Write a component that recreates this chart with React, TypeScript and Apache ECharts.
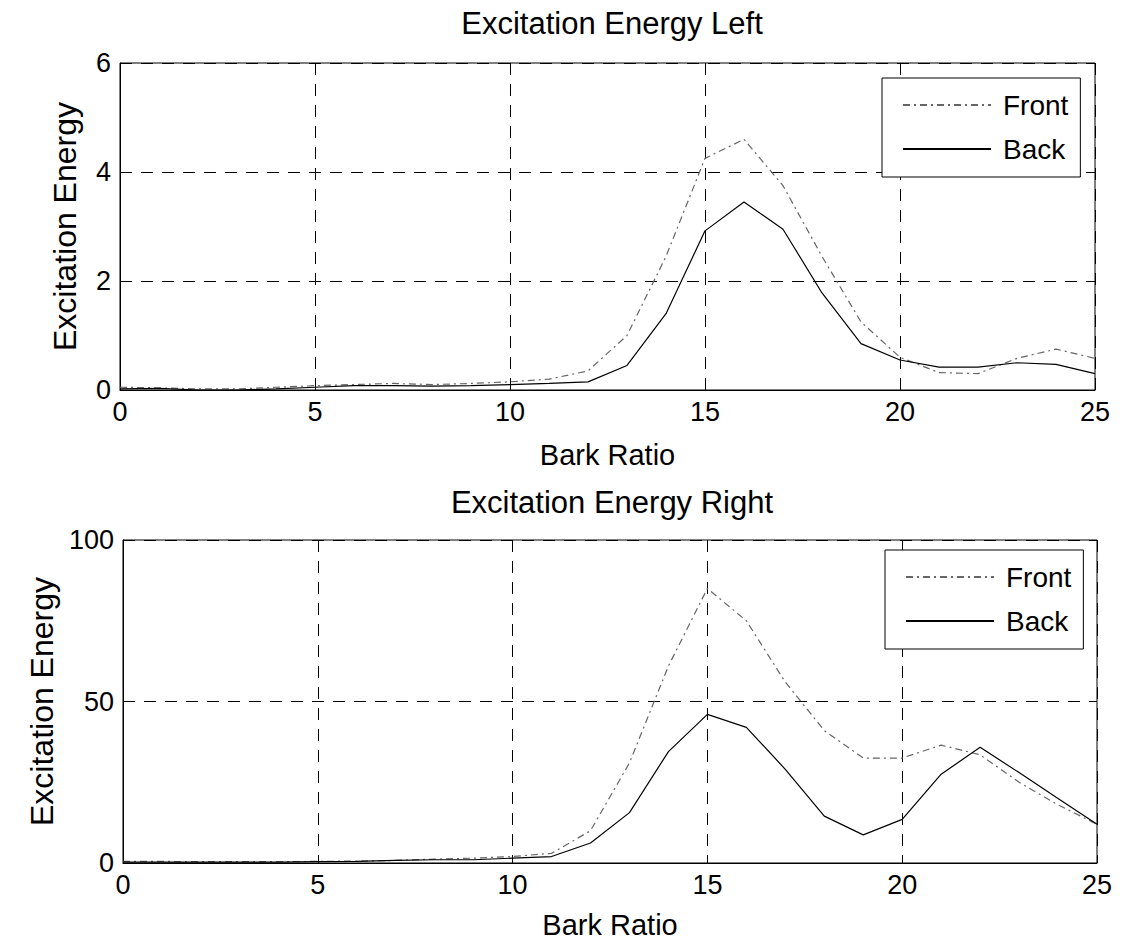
import React, { useEffect, useRef } from "react";
import * as echarts from "echarts";

const barkRatio = [0,1,2,3,4,5,6,7,8,9,10,11,12,13,14,15,16,17,18,19,20,21,22,23,24,25];
const xTicks = [0, 5, 10, 15, 20, 25];

const leftFront = [0.05,0.04,0.02,0.02,0.05,0.08,0.1,0.12,0.1,0.12,0.15,0.2,0.35,1.0,2.45,4.25,4.6,3.75,2.45,1.25,0.6,0.32,0.3,0.58,0.75,0.58];
const leftBack  = [0.02,0.03,0.0,0.0,0.02,0.05,0.08,0.08,0.07,0.08,0.1,0.12,0.15,0.45,1.4,2.92,3.45,2.95,1.78,0.85,0.55,0.42,0.42,0.5,0.47,0.3];

const rightFront = [0.5,0.5,0.4,0.4,0.4,0.5,0.6,0.8,1.2,1.5,2,3,10,31,61,85,75,56,41,32.5,32.5,36.5,33.5,25,18,12];
const rightBack  = [0.3,0.3,0.3,0.3,0.3,0.4,0.5,0.8,1,1,1.5,2,6.2,15.6,34.5,46,42,29,14.5,8.7,13.5,27.5,35.8,28,20,12];

const titles = ["Excitation Energy Left", "Excitation Energy Right"];
const seriesNames = ["Front", "Back"];
const xName = "Bark Ratio";
const yName = "Excitation Energy";

const FONT = "Liberation Sans";

export default function App() {
  const ref = useRef<HTMLDivElement>(null);
  useEffect(() => {
    if (!ref.current) return;
    const chart = echarts.init(ref.current, null, { renderer: "svg" });
    const pair = (xs: number[], ys: number[]) => xs.map((x, i) => [x, ys[i]]);
    const frontStyle = { color: "#666", width: 1.2, type: [7, 4, 2, 4] as any };
    const backStyle = { color: "#000", width: 1.2, type: "solid" as any };

    const xAxisBase = (gi: number) => ({
      type: "value",
      gridIndex: gi,
      min: 0,
      max: 25,
      interval: 5,
      name: xName,
      nameLocation: "middle",
      nameGap: gi === 0 ? 50 : 47,
      nameTextStyle: { fontFamily: FONT, fontSize: 29, color: "#000" },
      axisLine: { show: true, lineStyle: { color: "#000" } },
      axisTick: { show: true, inside: true, length: 6, lineStyle: { color: "#000" } },
      axisLabel: { fontFamily: FONT, fontSize: 27, color: "#000", margin: 8, formatter: (v: number) => (xTicks.includes(v) ? String(v) : "") },
      splitLine: { show: true, lineStyle: { color: "#000", type: [12, 9], width: 1 } },
    });
    const yAxisBase = (gi: number, max: number, interval: number) => ({
      type: "value",
      gridIndex: gi,
      min: 0,
      max,
      interval,
      name: yName,
      nameLocation: "middle",
      nameGap: gi === 0 ? 39 : 42,
      nameRotate: 90,
      nameTextStyle: { fontFamily: FONT, fontSize: 32, color: "#000" },
      axisLine: { show: true, lineStyle: { color: "#000" } },
      axisTick: { show: true, inside: true, length: 6, lineStyle: { color: "#000" } },
      axisLabel: { fontFamily: FONT, fontSize: 27, color: "#000", margin: 9 },
      splitLine: { show: true, lineStyle: { color: "#000", type: [12, 9], width: 1 } },
    });

    const legendBase = (left: number, top: number) => ({
      left,
      top,
      orient: "vertical",
      data: seriesNames,
      itemWidth: 88,
      itemHeight: 28,
      itemGap: 16,
      padding: [13, 12, 14, 20],
      borderColor: "#000",
      borderWidth: 1,
      backgroundColor: "#fff",
      itemStyle: { opacity: 0 },
      textStyle: { fontFamily: FONT, fontSize: 28, color: "#000", padding: [0, 0, 0, 7] },
      selectedMode: false,
    });

    chart.setOption({
      animation: false,
      backgroundColor: "#fff",
      title: [
        { text: titles[0], left: 607, top: 3, textAlign: "center", textStyle: { fontFamily: FONT, fontSize: 31, fontWeight: "normal", color: "#000" } },
        { text: titles[1], left: 607, top: 482, textAlign: "center", textStyle: { fontFamily: FONT, fontSize: 31, fontWeight: "normal", color: "#000" } },
      ],
      grid: [
        { left: 120, top: 63, width: 975, height: 327, show: true, borderColor: "#000", borderWidth: 1, backgroundColor: "transparent" },
        { left: 123, top: 540, width: 974, height: 323, show: true, borderColor: "#000", borderWidth: 1, backgroundColor: "transparent" },
      ],
      legend: [legendBase(882, 78), legendBase(885, 550)],
      xAxis: [xAxisBase(0), xAxisBase(1)],
      yAxis: [yAxisBase(0, 6, 2), yAxisBase(1, 100, 50)],
      series: [
        { name: seriesNames[0], type: "line", xAxisIndex: 0, yAxisIndex: 0, data: pair(barkRatio, leftFront), symbol: "none", lineStyle: frontStyle, itemStyle: { color: "#666" } },
        { name: seriesNames[1], type: "line", xAxisIndex: 0, yAxisIndex: 0, data: pair(barkRatio, leftBack), symbol: "none", lineStyle: backStyle, itemStyle: { color: "#000" } },
        { name: seriesNames[0], type: "line", xAxisIndex: 1, yAxisIndex: 1, data: pair(barkRatio, rightFront), symbol: "none", lineStyle: frontStyle, itemStyle: { color: "#666" } },
        { name: seriesNames[1], type: "line", xAxisIndex: 1, yAxisIndex: 1, data: pair(barkRatio, rightBack), symbol: "none", lineStyle: backStyle, itemStyle: { color: "#000" } },
      ],
    });
    return () => chart.dispose();
  }, []);
  return <div ref={ref} style={{ position: "absolute", left: 0, top: 0, width: 1126, height: 948, background: "#fff" }} />;
}
